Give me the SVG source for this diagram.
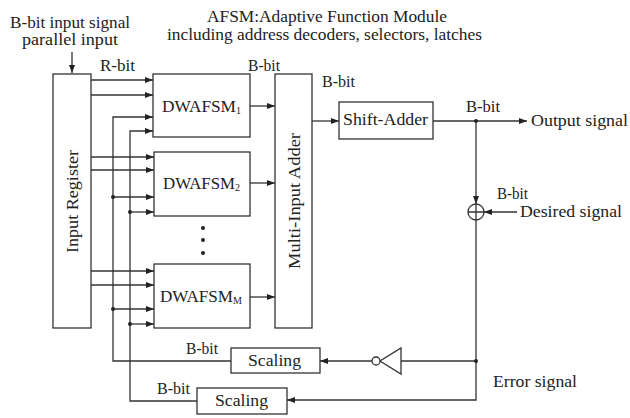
<svg xmlns="http://www.w3.org/2000/svg" width="630" height="418" viewBox="0 0 630 418">
<defs>
<marker id="ah" viewBox="0 0 8 6" refX="8" refY="3" markerWidth="8" markerHeight="6" markerUnits="userSpaceOnUse" orient="auto">
<path d="M0 0 L8 3 L0 6 Z" fill="#222"/>
</marker>
<style>
text{font-family:"Liberation Serif","Times New Roman",serif;font-size:16px;fill:#222}
.box{fill:#fff;stroke:#333;stroke-width:1.3}
.ln{fill:none;stroke:#333;stroke-width:1.3}
.ar{fill:none;stroke:#333;stroke-width:1.3;marker-end:url(#ah)}
.dot{fill:#222}
</style>
</defs>
<rect width="630" height="418" fill="#fff"/>

<g id="labels">
<text x="10" y="28" textLength="120" lengthAdjust="spacingAndGlyphs">B-bit input signal</text>
<text x="22" y="45" textLength="96" lengthAdjust="spacingAndGlyphs">parallel input</text>
<text x="207" y="22" textLength="240" lengthAdjust="spacingAndGlyphs">AFSM:Adaptive Function Module</text>
<text x="167" y="40" textLength="315" lengthAdjust="spacingAndGlyphs">including address decoders, selectors, latches</text>
<text x="100" y="71" textLength="35" lengthAdjust="spacingAndGlyphs">R-bit</text>
<text x="248" y="71" textLength="32" lengthAdjust="spacingAndGlyphs">B-bit</text>
<text x="322" y="87" textLength="33" lengthAdjust="spacingAndGlyphs">B-bit</text>
<text x="466" y="112" textLength="34" lengthAdjust="spacingAndGlyphs">B-bit</text>
<text x="531" y="126" textLength="97" lengthAdjust="spacingAndGlyphs">Output signal</text>
<text x="497" y="199" textLength="31" lengthAdjust="spacingAndGlyphs">B-bit</text>
<text x="520" y="217" textLength="102" lengthAdjust="spacingAndGlyphs">Desired signal</text>
<text x="493" y="387" textLength="84" lengthAdjust="spacingAndGlyphs">Error signal</text>
<text x="186" y="354" textLength="32" lengthAdjust="spacingAndGlyphs">B-bit</text>
<text x="157" y="394" textLength="33" lengthAdjust="spacingAndGlyphs">B-bit</text>
</g>

<g id="input-register">
<rect class="box" x="53" y="74" width="38" height="254"/>
<text transform="translate(78 253) rotate(-90)" textLength="103" lengthAdjust="spacingAndGlyphs">Input Register</text>
</g>

<g id="dwafsm1">
<rect class="box" x="153" y="74" width="97" height="63"/>
<text x="162" y="112" textLength="74" lengthAdjust="spacingAndGlyphs">DWAFSM</text>
<text x="236" y="114" style="font-size:10px">1</text>
</g>

<g id="dwafsm2">
<rect class="box" x="154" y="152" width="96" height="64"/>
<text x="163" y="189" textLength="72" lengthAdjust="spacingAndGlyphs">DWAFSM</text>
<text x="235" y="191" style="font-size:10px">2</text>
</g>

<g id="ellipsis">
<circle class="dot" cx="203" cy="228" r="2"/>
<circle class="dot" cx="203" cy="240" r="2"/>
<circle class="dot" cx="203" cy="253" r="2"/>
</g>

<g id="dwafsmM">
<rect class="box" x="154" y="264" width="96" height="64"/>
<text x="160" y="302" textLength="73" lengthAdjust="spacingAndGlyphs">DWAFSM</text>
<text x="233" y="304" style="font-size:10px">M</text>
</g>

<g id="multi-input-adder">
<rect class="box" x="275" y="74" width="37" height="254"/>
<text transform="translate(300 269) rotate(-90)" textLength="136" lengthAdjust="spacingAndGlyphs">Multi-Input Adder</text>
</g>

<g id="shift-adder">
<rect class="box" x="339" y="102" width="94" height="37"/>
<text x="343" y="125" textLength="85" lengthAdjust="spacingAndGlyphs">Shift-Adder</text>
</g>

<g id="sum">
<circle cx="476" cy="212" r="8" fill="#fff" stroke="#333" stroke-width="1.3"/>
<path class="ln" d="M468 212 H484 M476 204 V220"/>
</g>

<g id="inverter">
<polygon points="401,348 401,374 380,361" fill="#fff" stroke="#333" stroke-width="1.3"/>
<circle cx="376" cy="361" r="4" fill="#fff" stroke="#333" stroke-width="1.3"/>
</g>

<g id="scaling1">
<rect class="box" x="231" y="348" width="89" height="25"/>
<text x="248" y="366" textLength="53" lengthAdjust="spacingAndGlyphs">Scaling</text>
</g>

<g id="scaling2">
<rect class="box" x="197" y="388" width="90" height="26"/>
<text x="215" y="406" textLength="53" lengthAdjust="spacingAndGlyphs">Scaling</text>
</g>

<g id="connectors">
<path class="ar" d="M72 52 V73"/>
<path class="ar" d="M91 80 H153"/>
<path class="ar" d="M91 95 H153"/>
<path class="ar" d="M231 361 H113 V117 H153"/>
<path class="ar" d="M197 401 H130 V131 H153"/>
<path class="ar" d="M91 157 H154"/>
<path class="ar" d="M91 170 H154"/>
<path class="ar" d="M113 197 H154"/>
<path class="ar" d="M130 212 H154"/>
<path class="ar" d="M91 271 H154"/>
<path class="ar" d="M91 285 H154"/>
<path class="ar" d="M113 309 H154"/>
<path class="ar" d="M130 324 H154"/>
<circle class="dot" cx="113" cy="197" r="2"/>
<circle class="dot" cx="130" cy="212" r="2"/>
<circle class="dot" cx="113" cy="309" r="2"/>
<circle class="dot" cx="130" cy="324" r="2"/>
<path class="ar" d="M250 106 H275"/>
<path class="ar" d="M250 183 H275"/>
<path class="ar" d="M250 297 H275"/>
<path class="ar" d="M312 121 H339"/>
<path class="ar" d="M433 121 H527"/>
<circle class="dot" cx="476" cy="121" r="2"/>
<path class="ar" d="M476 121 V204"/>
<path class="ar" d="M476 220 V400 H287"/>
<path class="ar" d="M517 212 H484"/>
<path class="ln" d="M476 361 H401"/>
<circle class="dot" cx="476" cy="361" r="2"/>
<path class="ar" d="M372 361 H320"/>
</g>
</svg>
